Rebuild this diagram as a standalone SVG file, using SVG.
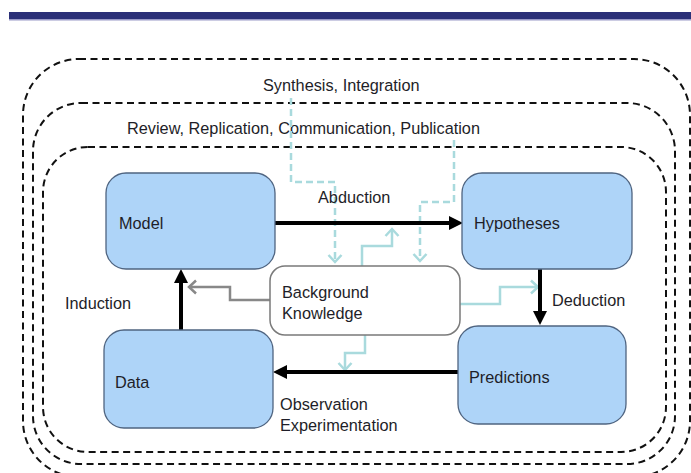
<svg xmlns="http://www.w3.org/2000/svg" width="691" height="473" viewBox="0 0 691 473">
<style>
  .frame{fill:none;stroke:#111;stroke-width:2;stroke-dasharray:7 4.5}
  .box{fill:#aed4f8;stroke:#4f6480;stroke-width:1.3}
  .bk{fill:#fff;stroke:#7a7a7a;stroke-width:1.5}
  .t{font-family:"Liberation Sans",Arial,sans-serif;font-size:16.3px;fill:#1e1e28}
  .blk{fill:none;stroke:#000;stroke-width:4}
  .lb{fill:none;stroke:#a9dadd;stroke-width:2.5}
  .lbd{fill:none;stroke:#a9dadd;stroke-width:2.5;stroke-dasharray:7 4}
  .gr{fill:none;stroke:#888;stroke-width:2.5}
</style>
<defs>
  <marker id="tri" markerUnits="userSpaceOnUse" markerWidth="14" markerHeight="14" viewBox="0 0 14 14" refX="2" refY="7" orient="auto">
    <path d="M0,0 L14,7 L0,14 z" fill="#000"/>
  </marker>
  <marker id="chevB" markerUnits="userSpaceOnUse" markerWidth="16" markerHeight="16" viewBox="0 0 16 16" refX="13" refY="8" orient="auto">
    <path d="M6,1.5 L13,8 L6,14.5" fill="none" stroke="#a9dadd" stroke-width="2.5"/>
  </marker>
  <marker id="chevG" markerUnits="userSpaceOnUse" markerWidth="16" markerHeight="16" viewBox="0 0 16 16" refX="13" refY="8" orient="auto">
    <path d="M6,1.5 L13,8 L6,14.5" fill="none" stroke="#888" stroke-width="2.5"/>
  </marker>
</defs>
<rect x="0" y="0" width="691" height="473" fill="#fff"/>
<g id="band">
  <rect x="9" y="12" width="682" height="7" fill="#2b3078"/>
  <rect x="9" y="19" width="682" height="1.5" fill="#9a9ac8"/>
</g>
<g id="frames">
  <rect id="outer" class="frame" x="23" y="59" width="667" height="418" rx="56"/>
  <rect id="middle" class="frame" x="33" y="103" width="642" height="361" rx="48"/>
  <rect id="inner" class="frame" x="43" y="147" width="623" height="305" rx="45"/>
</g>
<g id="labels-frames">
  <text class="t" x="263" y="91">Synthesis, Integration</text>
  <text class="t" x="127" y="134">Review, Replication, Communication, Publication</text>
</g>
<g id="connectors">
  <path class="lbd" d="M291,98 V182 H335 V262" marker-end="url(#chevB)"/>
  <path class="lbd" d="M454,140 V202 H420 V261" marker-end="url(#chevB)"/>
  <path class="lb" d="M362,266 V246 H392 V229" marker-end="url(#chevB)"/>
  <path class="lb" d="M460,304 H500 V287 H538" marker-end="url(#chevB)"/>
  <path class="lb" d="M365,335 V353 H345 V370" marker-end="url(#chevB)"/>
  <path class="gr" d="M270,300 H230 V287 H189" marker-end="url(#chevG)"/>
  <path class="blk" d="M275,223 H451" marker-end="url(#tri)"/>
  <path class="blk" d="M181,330 V281" marker-end="url(#tri)"/>
  <path class="blk" d="M540,269 V313" marker-end="url(#tri)"/>
  <path class="blk" d="M458,372 H285" marker-end="url(#tri)"/>
</g>
<g id="model">
  <rect class="box" x="106" y="173" width="169" height="96" rx="20"/>
  <text class="t" x="119" y="229">Model</text>
</g>
<g id="hypotheses">
  <rect class="box" x="462" y="173" width="170" height="96" rx="20"/>
  <text class="t" x="474" y="229">Hypotheses</text>
</g>
<g id="data">
  <rect class="box" x="104" y="330" width="169" height="98" rx="20"/>
  <text class="t" x="115" y="388">Data</text>
</g>
<g id="predictions">
  <rect class="box" x="458" y="326" width="168" height="98" rx="20"/>
  <text class="t" x="469" y="383">Predictions</text>
</g>
<g id="background">
  <rect class="bk" x="270" y="266" width="190" height="69" rx="15"/>
  <text class="t" x="282" y="298">Background</text>
  <text class="t" x="282" y="319">Knowledge</text>
</g>
<g id="edge-labels">
  <text class="t" x="318" y="203">Abduction</text>
  <text class="t" x="65" y="309">Induction</text>
  <text class="t" x="552" y="306">Deduction</text>
  <text class="t" x="280" y="410">Observation</text>
  <text class="t" x="280" y="431">Experimentation</text>
</g>
</svg>
